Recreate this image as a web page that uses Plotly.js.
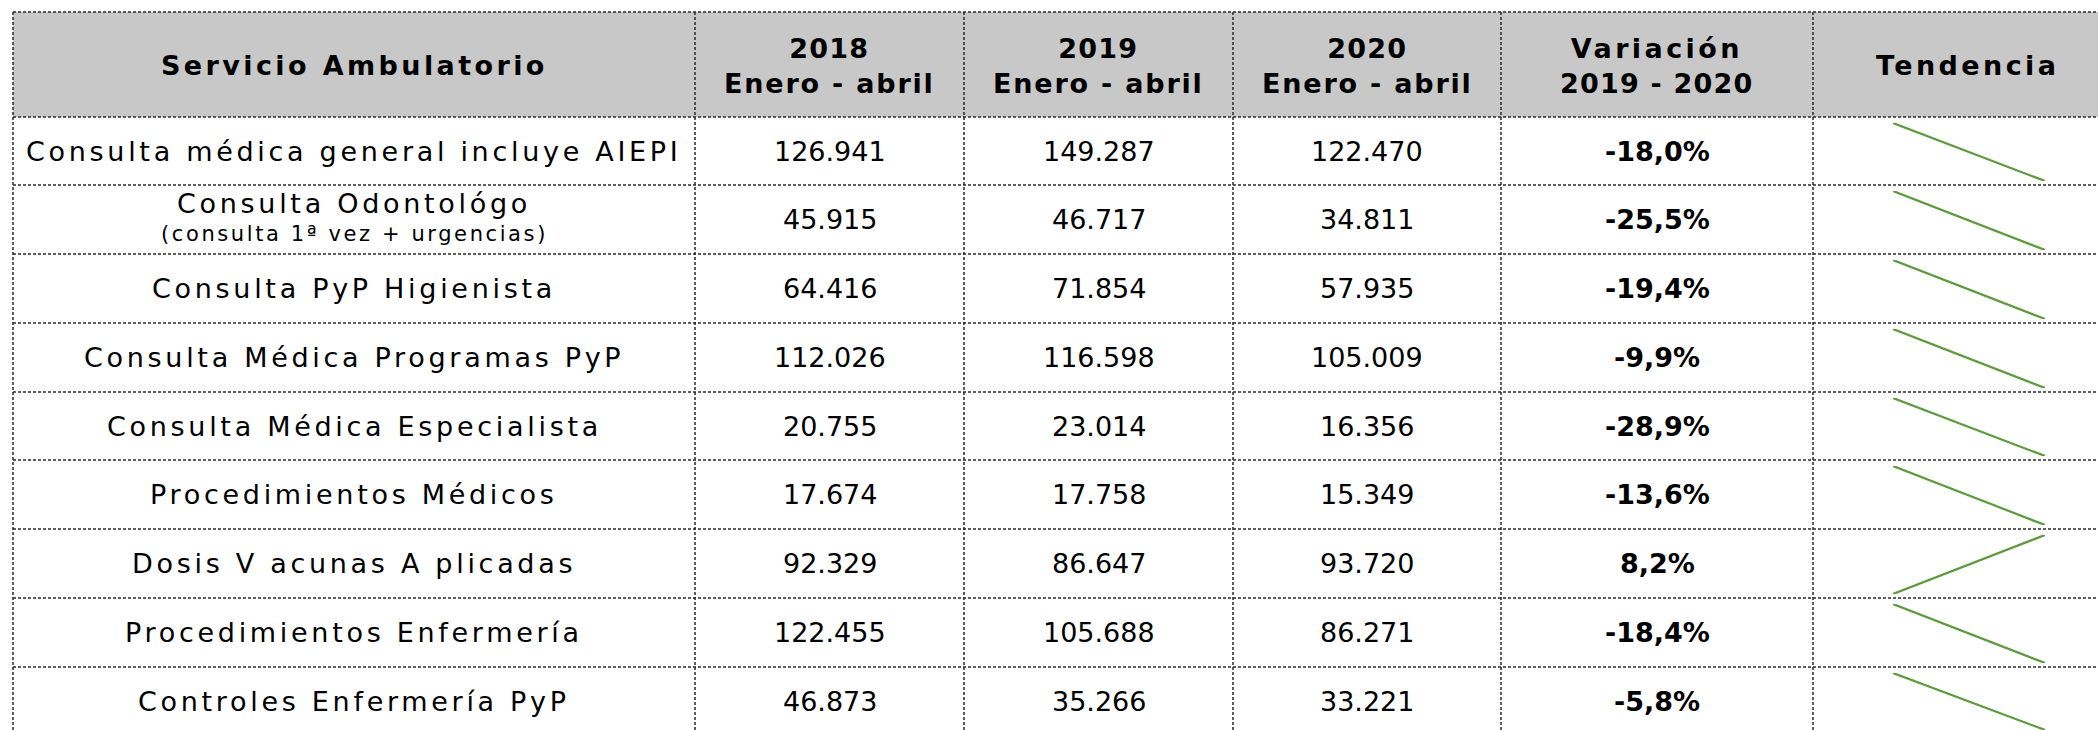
<!DOCTYPE html>
<html>
<head>
<meta charset="utf-8">
<script src="https://cdn.plot.ly/plotly-3.0.1.min.js"></script>
<style>html,body{margin:0;padding:0;background:#fff;}#chart{width:2098px;height:730px;}</style>
</head>
<body>
<div id="chart"></div>
<script>
// ---- Data ----
const encabezados = ["Servicio Ambulatorio", "2018<br>Enero - abril", "2019<br>Enero - abril", "2020<br>Enero - abril", "Variación<br>2019 - 2020", "Tendencia"];
const servicios = [
  "Consulta médica general incluye AIEPI",
  "Consulta Odontológo",
  "Consulta PyP Higienista",
  "Consulta Médica Programas PyP",
  "Consulta Médica Especialista",
  "Procedimientos Médicos",
  "Dosis V acunas A plicadas",
  "Procedimientos Enfermería",
  "Controles Enfermería PyP"
];
const notas = ["", "(consulta 1ª vez + urgencias)", "", "", "", "", "", "", ""];
const valores2018 = [126941, 45915, 64416, 112026, 20755, 17674, 92329, 122455, 46873];
const valores2019 = [149287, 46717, 71854, 116598, 23014, 17758, 86647, 105688, 35266];
const valores2020 = [122470, 34811, 57935, 105009, 16356, 15349, 93720, 86271, 33221];
const variacion = [-18.0, -25.5, -19.4, -9.9, -28.9, -13.6, 8.2, -18.4, -5.8];
const anios = [2019, 2020];

// ---- Layout geometry (pixels) ----
const W = 2098, H = 730;
const colEdges = [13, 695, 964, 1233, 1501, 1813, 2121];
const rowEdges = [12, 117, 185, 254, 323, 392, 460, 529, 598, 667, 735];
const px = x => x / W;
const py = y => 1 - y / H;
const FONT = "DejaVu Sans";
const FS = 27;

function fmt(n) { return String(n).replace(/\B(?=(\d{3})+(?!\d))/g, "."); }
function fmtPct(v) { return v.toFixed(1).replace(".", ",") + "%"; }
function spaced(s, ls) { return '<span style="letter-spacing:' + ls + 'px">' + s + '</span>'; }

const shapes = [];
const annotations = [];

// header background
shapes.push({type: "rect", xref: "paper", yref: "paper", layer: "below",
  x0: px(colEdges[0]), x1: px(colEdges[6]), y0: py(rowEdges[0]), y1: py(rowEdges[1]),
  fillcolor: "#C8C8C8", line: {width: 0}});

const border = {color: "#2a2a2a", width: 1.5, dash: "3px,2px"};
rowEdges.forEach(y => {
  shapes.push({type: "line", xref: "paper", yref: "paper", x0: px(colEdges[0]), x1: px(colEdges[6]), y0: py(y), y1: py(y), line: border});
});
colEdges.forEach(x => {
  shapes.push({type: "line", xref: "paper", yref: "paper", x0: px(x), x1: px(x), y0: py(rowEdges[0]), y1: py(rowEdges[rowEdges.length - 1]), line: border});
});

// header text
encabezados.forEach((t, i) => {
  const cx = (colEdges[i] + colEdges[i + 1]) / 2;
  const cy = (rowEdges[0] + rowEdges[1]) / 2;
  const txt = t.split("<br>").map(s => {
    const ls = /^[\d\s-]+$/.test(s) ? 1.2 : (s.indexOf("Enero") === 0 ? 1.8 : 3.4);
    return "<b>" + spaced(s, ls) + "</b>";
  }).join("<br>");
  annotations.push({xref: "paper", yref: "paper", x: px(cx), y: py(cy + 1), text: txt, showarrow: false,
    xanchor: "center", yanchor: "middle", align: "center",
    font: {family: FONT, size: FS, color: "#000"}});
});

// body
const data = [];
const layoutAxes = {};
servicios.forEach((s, r) => {
  const top = rowEdges[r + 1], bot = rowEdges[r + 2];
  const cy = (top + bot) / 2;
  const cxs = colEdges.slice(0, 6).map((e, i) => (e + colEdges[i + 1]) / 2);
  if (notas[r]) {
    annotations.push({xref: "paper", yref: "paper", x: px(cxs[0]), y: py(cy - 16), text: spaced(s, 3.7), showarrow: false,
      xanchor: "center", yanchor: "middle", font: {family: FONT, size: FS, color: "#000"}});
    annotations.push({xref: "paper", yref: "paper", x: px(cxs[0]), y: py(cy + 15), text: spaced(notas[r], 2.6), showarrow: false,
      xanchor: "center", yanchor: "middle", font: {family: FONT, size: 21, color: "#000"}});
  } else {
    annotations.push({xref: "paper", yref: "paper", x: px(cxs[0]), y: py(cy), text: spaced(s, 3.7), showarrow: false,
      xanchor: "center", yanchor: "middle", font: {family: FONT, size: FS, color: "#000"}});
  }
  [valores2018[r], valores2019[r], valores2020[r]].forEach((v, k) => {
    annotations.push({xref: "paper", yref: "paper", x: px(cxs[k + 1]), y: py(cy), text: fmt(v), showarrow: false,
      xanchor: "center", yanchor: "middle", font: {family: FONT, size: FS, color: "#000"}});
  });
  annotations.push({xref: "paper", yref: "paper", x: px(cxs[4]), y: py(cy), text: "<b>" + fmtPct(variacion[r]) + "</b>", showarrow: false,
    xanchor: "center", yanchor: "middle", font: {family: FONT, size: FS, color: "#000"}});

  // sparkline (2019 -> 2020)
  const k = r + 1;
  const xa = "x" + (k === 1 ? "" : k), ya = "y" + (k === 1 ? "" : k);
  const ys = [valores2019[r], valores2020[r]];
  data.push({type: "scatter", mode: "lines", x: anios, y: ys, xaxis: xa, yaxis: ya,
    line: {color: "#5E9A3E", width: 2.2}, hoverinfo: "skip", showlegend: false});
  const axBase = {showgrid: false, zeroline: false, showticklabels: false, ticks: "", showline: false, fixedrange: true};
  layoutAxes["xaxis" + (k === 1 ? "" : k)] = Object.assign({}, axBase, {
    domain: [px(1893), px(2045)], range: [anios[0], anios[1]], anchor: ya});
  layoutAxes["yaxis" + (k === 1 ? "" : k)] = Object.assign({}, axBase, {
    domain: [py(bot - 4), py(top + 6)], range: [Math.min(...ys), Math.max(...ys)], anchor: xa});
});

const layout = Object.assign({
  width: W, height: H,
  margin: {l: 0, r: 0, t: 0, b: 0, pad: 0},
  paper_bgcolor: "#fff", plot_bgcolor: "rgba(0,0,0,0)",
  showlegend: false,
  shapes: shapes,
  annotations: annotations
}, layoutAxes);

Plotly.newPlot("chart", data, layout, {displayModeBar: false, staticPlot: true});
</script>
</body>
</html>
